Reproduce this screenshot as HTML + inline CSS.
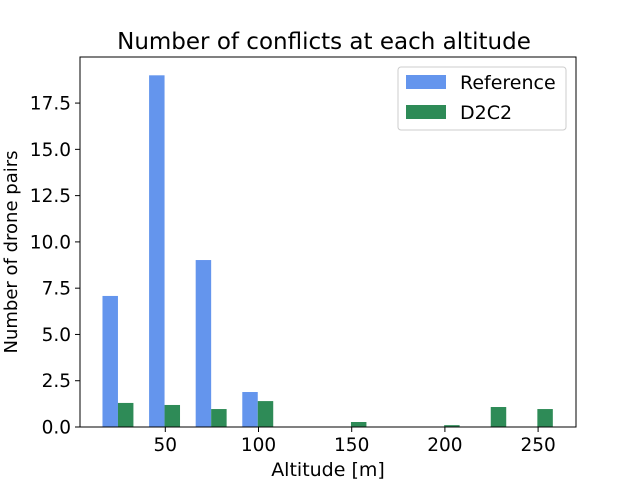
<!DOCTYPE html>
<html><head><meta charset="utf-8"><style>
body{margin:0;background:#fff;font-family:"DejaVu Sans","Liberation Sans",sans-serif;}
</style></head><body>
<svg id="chart" width="640" height="480" xmlns="http://www.w3.org/2000/svg">
<text x="324" y="49" text-anchor="middle" font-size="23">Number of conflicts at each altitude</text>
<g id="bars"></g>
<rect x="80" y="57" width="496" height="370" fill="none" stroke="#000" stroke-width="1"/>
<g id="axes" font-size="18.5"></g>
<text x="328" y="476" text-anchor="middle" font-size="19">Altitude [m]</text>
<text transform="translate(17,252) rotate(-90)" text-anchor="middle" font-size="18">Number of drone pairs</text>
<g>
<rect x="398" y="67" width="168" height="63" rx="3" fill="#fff" stroke="#ccc"/>
<rect x="406" y="75" width="40" height="14" fill="#6495ED"/>
<text x="460" y="89" font-size="19">Reference</text>
<rect x="406" y="105" width="40" height="14" fill="#2E8B57"/>
<text x="460" y="119" font-size="19">D2C2</text>
</g>
</svg>
<script>
const altitudes=[25,50,75,100,125,150,175,200,225,250];
const referenceVals=[7.08,19.0,9.02,1.89,0,0,0,0,0,0];
const d2c2Vals=[1.3,1.19,0.97,1.4,0,0.27,0,0.1,1.08,0.97];
const xTicks=[50,100,150,200,250];
const yTicks=[0.0,2.5,5.0,7.5,10.0,12.5,15.0,17.5];
const NS="http://www.w3.org/2000/svg";
const xs=v=>165.3+(v-50)*1.864;
const ys=v=>427-v*18.51;
const bw=8.3;
const bars=document.getElementById('bars');
function bar(x0,x1,v,c,n){
  if(v<=0)return;
  const r=document.createElementNS(NS,'rect');
  r.setAttribute('x',xs(x0));r.setAttribute('width',xs(x1)-xs(x0));
  r.setAttribute('y',ys(v));r.setAttribute('height',ys(0)-ys(v));
  r.setAttribute('fill',c);
  
  
  bars.appendChild(r);
}
altitudes.forEach((a,i)=>{
  const c=a-0.4;
  bar(c-bw,c,referenceVals[i],'#6495ED','bar-reference-'+a);
  bar(c,c+bw,d2c2Vals[i],'#2E8B57','bar-d2c2-'+a);
});
const axes=document.getElementById('axes');
xTicks.forEach(t=>{
  const l=document.createElementNS(NS,'line');
  l.setAttribute('x1',xs(t));l.setAttribute('x2',xs(t));l.setAttribute('y1',427);l.setAttribute('y2',432);l.setAttribute('stroke','#000');
  
  
  axes.appendChild(l);
  const tx=document.createElementNS(NS,'text');
  tx.setAttribute('x',xs(t));tx.setAttribute('y',451);tx.setAttribute('text-anchor','middle');tx.textContent=t;
  
  
  axes.appendChild(tx);
});
yTicks.forEach(t=>{
  const l=document.createElementNS(NS,'line');
  l.setAttribute('x1',75);l.setAttribute('x2',80);l.setAttribute('y1',ys(t));l.setAttribute('y2',ys(t));l.setAttribute('stroke','#000');
  
  
  axes.appendChild(l);
  const tx=document.createElementNS(NS,'text');
  tx.setAttribute('x',71);tx.setAttribute('y',ys(t)+6.5);tx.setAttribute('text-anchor','end');tx.textContent=t.toFixed(1);
  
  
  axes.appendChild(tx);
});
</script>
</body></html>
